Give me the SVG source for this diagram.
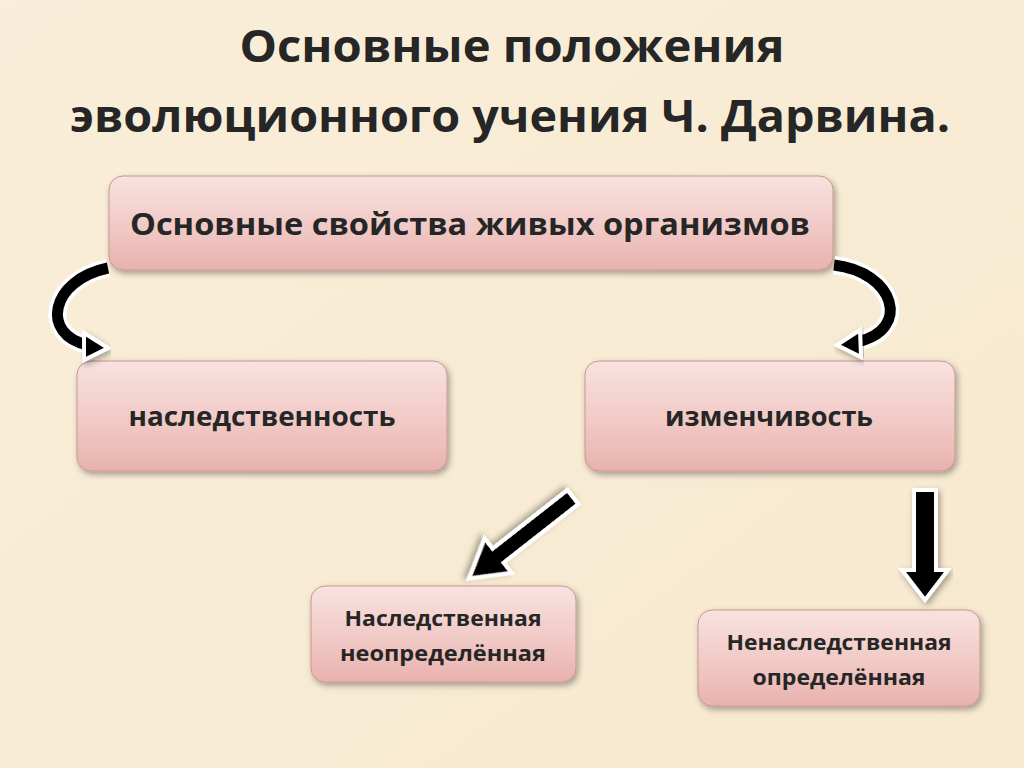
<svg xmlns="http://www.w3.org/2000/svg" width="1024" height="768" viewBox="0 0 1024 768">
<defs>
<linearGradient id="bg" x1="0" y1="0" x2="1" y2="1"><stop offset="0" stop-color="#f9eed9"/><stop offset="1" stop-color="#f7e9cf"/></linearGradient>
<linearGradient id="box" x1="0" y1="0" x2="0" y2="1"><stop offset="0" stop-color="#f8e2e0"/><stop offset="0.6" stop-color="#f0c7c3"/><stop offset="1" stop-color="#e9b2ae"/></linearGradient>
<filter id="sh" x="-10%" y="-20%" width="120%" height="150%"><feDropShadow dx="2" dy="3" stdDeviation="3" flood-color="#000" flood-opacity="0.35"/></filter>
</defs>
<style>
.b{fill:url(#box);stroke:#c9958f;stroke-width:1;filter:url(#sh)}
.t{font-family:"Open Sans","Liberation Sans",sans-serif;font-weight:bold;fill:#262626;text-anchor:middle}
.a{fill:#000;stroke:#fff;stroke-width:4;stroke-linejoin:miter;filter:url(#sh)}
</style>
<rect width="1024" height="768" fill="url(#bg)"/>
<text class="t" x="512" y="62" font-size="45" fill="#1a1a1a" textLength="545" lengthAdjust="spacingAndGlyphs">Основные положения</text>
<text class="t" x="510" y="132" font-size="45" fill="#1a1a1a" textLength="880" lengthAdjust="spacingAndGlyphs">эволюционного учения Ч. Дарвина.</text>
<g id="n0"><rect class="b" x="109" y="176" width="724" height="94" rx="14"/><text class="t" x="470" y="235" font-size="30" textLength="680" lengthAdjust="spacingAndGlyphs">Основные свойства живых организмов</text></g>
<g id="n1"><rect class="b" x="77" y="361" width="370" height="110" rx="14"/><text class="t" x="262" y="426" font-size="26" textLength="267" lengthAdjust="spacingAndGlyphs">наследственность</text></g>
<g id="n2"><rect class="b" x="585" y="361" width="370" height="110" rx="14"/><text class="t" x="769" y="426" font-size="26" textLength="208" lengthAdjust="spacingAndGlyphs">изменчивость</text></g>
<g id="n3"><rect class="b" x="311" y="586" width="265" height="96" rx="14"/><text class="t" x="443" y="626" font-size="21" textLength="197" lengthAdjust="spacingAndGlyphs">Наследственная</text><text class="t" x="443" y="661" font-size="21" textLength="206" lengthAdjust="spacingAndGlyphs">неопределённая</text></g>
<g id="n4"><rect class="b" x="698" y="610" width="282" height="96" rx="14"/><text class="t" x="839" y="650" font-size="21" textLength="225" lengthAdjust="spacingAndGlyphs">Ненаследственная</text><text class="t" x="839" y="685" font-size="21" textLength="173" lengthAdjust="spacingAndGlyphs">определённая</text></g>
<g id="connectors">
<path d="M108,268 C50,280 40,335 88,345" fill="none" stroke="#fff" stroke-width="18"/>
<path d="M108,268 C50,280 40,335 88,345" fill="none" stroke="#000" stroke-width="11"/>
<polygon class="a" points="84,333 108,348 84,360"/>
<path d="M834,265 C895,272 912,330 857,342" fill="none" stroke="#fff" stroke-width="18"/>
<path d="M834,265 C895,272 912,330 857,342" fill="none" stroke="#000" stroke-width="11"/>
<polygon class="a" points="860,330 837,345 861,357"/>
<polygon class="a" transform="translate(573,497) rotate(141.9)" points="0,-9 95,-9 95,-22 132,0 95,22 95,9 0,9"/>
<polygon class="a" points="914,490 936,490 936,570 948,570 925,600 902,570 914,570"/>
</g>
</svg>
